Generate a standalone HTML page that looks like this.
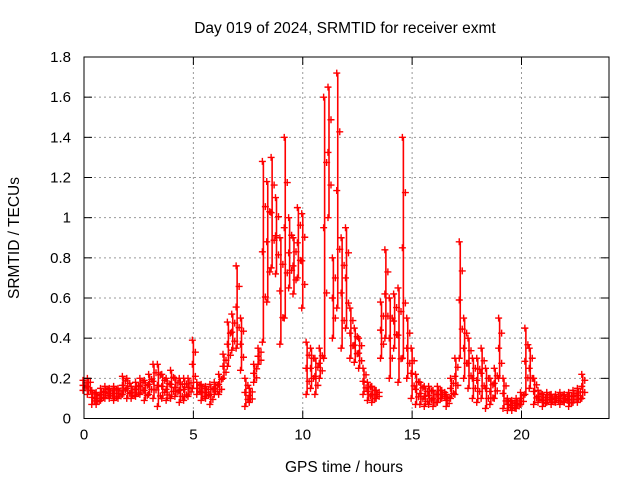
<!DOCTYPE html>
<html><head><meta charset="utf-8"><style>
body{margin:0;background:#fff;}
svg{display:block;font-family:"Liberation Sans",sans-serif;}
</style></head><body>
<svg id="chart" width="640" height="480">
<text x="345" y="33" font-size="15.5" text-anchor="middle">Day 019 of 2024, SRMTID for receiver exmt</text>
<text x="344" y="472" font-size="15.5" text-anchor="middle">GPS time / hours</text>
<text transform="translate(19,238) rotate(-90)" font-size="15.5" text-anchor="middle">SRMTID / TECUs</text>
<g id="grid"></g>
<g id="marks"></g>
<rect x="84" y="57" width="525" height="361.5" fill="none" stroke="#000" stroke-width="1"/>
<g id="ticks"></g>
</svg>
<script>
const xTicks=[0,5,10,15,20];
const yTicks=[0,0.2,0.4,0.6,0.8,1,1.2,1.4,1.6,1.8];
const yTickLabels=["0","0.2","0.4","0.6","0.8","1","1.2","1.4","1.6","1.8"];
const startHour=0, stepHours=0.2;
const srmtidLow=[.14,.12,.07,.07,.09,.10,.10,.09,.10,.12,.10,.10,.11,.12,.09,.12,.10,.06,.10,.09,.10,.11,.08,.09,.11,.15,.12,.09,.10,.07,.12,.12,.20,.26,.34,.35,.24,.06,.08,.18,.27,.38,.58,.75,.72,.37,.50,.65,.62,.70,.55,.12,.15,.12,.20,.30,1.0,.40,.55,.35,.45,.30,.28,.25,.12,.09,.08,.10,.30,.40,.20,.35,.18,.30,.20,.10,.07,.07,.06,.07,.06,.08,.10,.06,.10,.12,.30,.20,.15,.10,.08,.10,.05,.07,.10,.20,.05,.04,.04,.05,.07,.12,.15,.07,.08,.06,.08,.07,.08,.07,.08,.06,.08,.08,.10];
const srmtidHigh=[.19,.20,.14,.13,.15,.16,.15,.16,.15,.21,.20,.16,.18,.20,.19,.22,.27,.27,.22,.20,.24,.20,.20,.20,.20,.39,.18,.17,.16,.17,.18,.22,.32,.48,.52,.76,.50,.20,.15,.27,.35,1.28,1.18,1.30,1.10,.90,1.40,1.00,.90,1.05,1.02,.38,.35,.30,.35,1.60,1.65,.80,1.72,.90,.95,.55,.45,.40,.25,.18,.16,.14,.58,.84,.60,.62,.65,1.40,.50,.35,.22,.18,.16,.16,.14,.16,.14,.12,.20,.30,.88,.50,.40,.30,.30,.35,.25,.20,.25,.50,.20,.10,.09,.10,.13,.45,.35,.20,.14,.12,.13,.12,.12,.13,.12,.13,.14,.15,.22];
const NS="http://www.w3.org/2000/svg";
const X0=84,X1=609,Y0=418.5,Y1=57,XMAX=24,YMAX=1.8;
function xs(v){return X0+(X1-X0)*v/XMAX;}
function ys(v){return Y0-(Y0-Y1)*v/YMAX;}
function mk(tag,attrs,parent){const e=document.createElementNS(NS,tag);for(const k in attrs)e.setAttribute(k,attrs[k]);parent.appendChild(e);return e;}
const grid=document.getElementById('grid'),ticks=document.getElementById('ticks'),marks=document.getElementById('marks');
yTicks.forEach((v,i)=>{
  const y=ys(v);
  if(i>0&&i<yTicks.length-1){const g=mk('line',{x1:X0,x2:X1,y1:y,y2:y,stroke:'#999','stroke-dasharray':'2,3'},grid);
  
  }
  mk('line',{x1:X0,x2:X0+8,y1:y,y2:y,stroke:'#000'},ticks);
  mk('line',{x1:X1-8,x2:X1,y1:y,y2:y,stroke:'#000'},ticks);
  const t=mk('text',{x:X0-13,y:y+5,'font-size':15,'text-anchor':'end'},ticks);
  t.textContent=yTickLabels[i];
  
  
});
xTicks.forEach(v=>{
  const x=xs(v);
  if(v>0){const g=mk('line',{x1:x,x2:x,y1:Y1,y2:Y0,stroke:'#999','stroke-dasharray':'2,3'},grid);
  
  }
  mk('line',{x1:x,x2:x,y1:Y0,y2:Y0-8,stroke:'#000'},ticks);
  mk('line',{x1:x,x2:x,y1:Y1,y2:Y1+8,stroke:'#000'},ticks);
  const t=mk('text',{x:x,y:Y0+21,'font-size':15,'text-anchor':'middle'},ticks);
  t.textContent=String(v);
  
  
});
function cross(x,y){
  const p=mk('path',{d:`M${x-3.5},${y}H${x+3.5}M${x},${y-3.5}V${y+3.5}`,stroke:'#f00','stroke-width':1.4,fill:'none'},marks);
  
  
}
srmtidLow.forEach((lo,i)=>{
  const hi=srmtidHigh[i];
  const x=xs(startHour+i*stepHours);
  const s=mk('line',{x1:x,x2:x,y1:ys(lo),y2:ys(hi),stroke:'#f00','stroke-width':1.6},marks);
  
  
  [0,0.25,0.5,0.75,1].forEach((f,j)=>cross(x+(j%2?2:-1),ys(lo+(hi-lo)*f)));
});
</script>
</body></html>
